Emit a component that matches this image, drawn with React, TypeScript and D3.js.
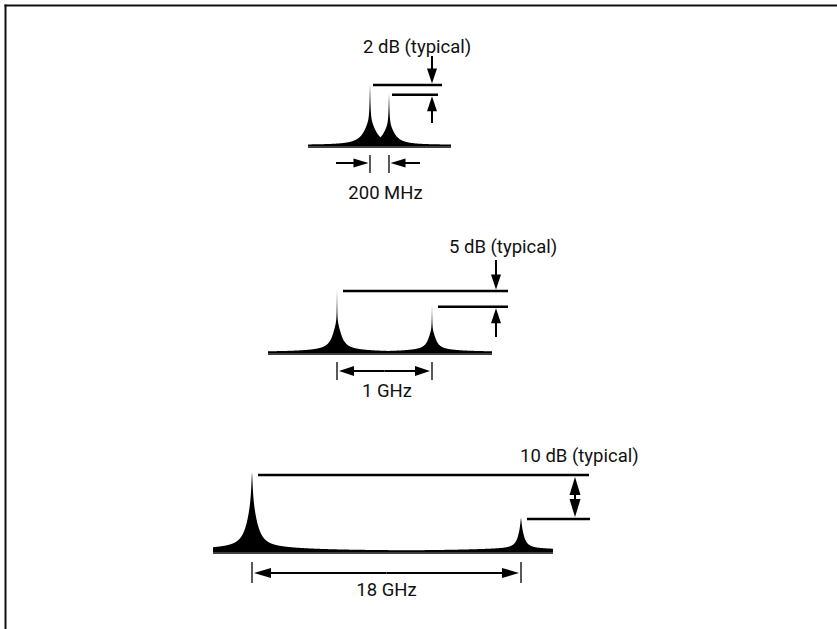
import React from "react";
import * as d3 from "d3";

// ---- data ----
const spanLabels = ["200 MHz", "1 GHz", "18 GHz"];
const spanValuesGHz = [0.2, 1, 18];
const levelLabels = ["2 dB (typical)", "5 dB (typical)", "10 dB (typical)"];
const levelDiffsDb = [2, 5, 10];
const floorLevelsDb = [-12, -19, -17];
// peaks per panel: [frequency offset (GHz), level (dB rel. main peak)]
const peaksPanel1: [number, number][] = [[0, 0], [0.2, -2]];
const peaksPanel2: [number, number][] = [[0, 0], [1, -5]];
const peaksPanel3: [number, number][] = [[0, 0], [18, -10]];
const allPeaks = [peaksPanel1, peaksPanel2, peaksPanel3];

// ---- layout / style ----
const W = 837;
const H = 629;
const FONT = "Roboto, 'Liberation Sans', Arial, sans-serif";
const FS = 18.5;

type Layout = {
  px0: number; px1: number; baseX0: number; baseX1: number; baseY: number; topY: number;
  lineGap: number; line1End: number; line2End: number; arrowX: number;
  labelX: number; labelY: number; downFrom?: number; upTo?: number; doubleArrow: boolean;
  tickTop: number; tickBot: number; spanY: number; spanLabelX: number; spanLabelY: number;
  outerSpan: boolean; outerL?: number; outerR?: number;
  spikeW: number; shoulderFrac: number; shoulderW: number; skirtPx: number; skirtW: number;
};

const layouts: Layout[] = [
  {
    px0: 370, px1: 389, baseX0: 308, baseX1: 451, baseY: 146, topY: 87,
    lineGap: 3, line1End: 442, line2End: 438, arrowX: 432,
    labelX: 363, labelY: 53, downFrom: 56, upTo: 123, doubleArrow: false,
    tickTop: 155, tickBot: 173, spanY: 163, spanLabelX: 385.5, spanLabelY: 199,
    outerSpan: true, outerL: 336, outerR: 420,
    spikeW: 0.5, shoulderFrac: 0.32, shoulderW: 7, skirtPx: 2, skirtW: 15,
  },
  {
    px0: 337, px1: 432, baseX0: 268, baseX1: 492, baseY: 353, topY: 293,
    lineGap: 6, line1End: 508, line2End: 508, arrowX: 496,
    labelX: 449, labelY: 253, downFrom: 260, upTo: 337, doubleArrow: false,
    tickTop: 362, tickBot: 380, spanY: 371, spanLabelX: 387, spanLabelY: 397,
    outerSpan: false,
    spikeW: 0.25, shoulderFrac: 0.41, shoulderW: 5, skirtPx: 2.5, skirtW: 30,
  },
  {
    px0: 252, px1: 521, baseX0: 213, baseX1: 553, baseY: 552, topY: 477,
    lineGap: 6, line1End: 589, line2End: 590, arrowX: 575,
    labelX: 520, labelY: 462, doubleArrow: true,
    tickTop: 562, tickBot: 583, spanY: 573, spanLabelX: 386.5, spanLabelY: 596,
    outerSpan: false,
    spikeW: 1.1, shoulderFrac: 0.47, shoulderW: 6.5, skirtPx: 3.5, skirtW: 60,
  },
];

function headPath(tx: number, ty: number, dx: number, dy: number, len: number, wid: number) {
  // tip at (tx,ty), pointing in direction (dx,dy) (unit)
  const bx = tx - dx * len;
  const by = ty - dy * len;
  const nx = -dy, ny = dx;
  return `M${tx},${ty}L${bx + nx * wid / 2},${by + ny * wid / 2}L${bx - nx * wid / 2},${by - ny * wid / 2}Z`;
}

function Arrow({ x1, y1, x2, y2, len = 15, wid = 10, sw = 2 }: any) {
  const L = Math.hypot(x2 - x1, y2 - y1);
  const dx = (x2 - x1) / L, dy = (y2 - y1) / L;
  const sx = x2 - dx * (len - 2), sy = y2 - dy * (len - 2);
  return (
    <g>
      <line x1={x1} y1={y1} x2={sx} y2={sy} stroke="#000" strokeWidth={sw} />
      <path d={headPath(x2, y2, dx, dy, len, wid)} fill="#000" />
    </g>
  );
}

function Panel({ i }: { i: number }) {
  const L = layouts[i];
  const peaks = allPeaks[i];
  const x = d3.scaleLinear().domain([0, spanValuesGHz[i]]).range([L.px0, L.px1]);
  const y = d3.scaleLinear().domain([floorLevelsDb[i], 0]).range([L.baseY, L.topY]);
  const mainH = L.baseY - y(0);

  const xs = d3.range(L.baseX0, L.baseX1 + 0.001, 0.2);
  const floorPx = 1.2;
  const pts = xs.map((xx) => {
    let h = 0;
    for (const [f, db] of peaks) {
      const Hp = L.baseY - y(db);
      const d = xx - x(f);
      const shW = L.shoulderW * Math.sqrt(Hp / mainH);
      const spike = (Hp * (1 - L.shoulderFrac)) / (1 + Math.pow(Math.abs(d) / L.spikeW, 1.5));
      const shoulder = (Hp * L.shoulderFrac) / (1 + (d / shW) ** 2);
      const skirt = (L.skirtPx * Math.sqrt(Hp / mainH)) / (1 + (d / L.skirtW) ** 2);
      h = Math.max(h, spike + shoulder + skirt);
    }
    return { x: xx, h: h + floorPx };
  });
  const area = d3
    .area<{ x: number; h: number }>()
    .x((d) => d.x)
    .y0(L.baseY)
    .y1((d) => L.baseY - d.h);

  const l1y = y(0) - 2;
  const l2y = y(-levelDiffsDb[i]) - 2;
  const t0 = x(0), t1 = x(spanValuesGHz[i]);

  return (
    <g>
      {/* spectrum */}
      <path d={area(pts) || ""} fill="#000" />
      <line x1={L.baseX0} x2={L.baseX1} y1={L.baseY + 1} y2={L.baseY + 1} stroke="#000" strokeWidth={1.6} />

      {/* level reference lines */}
      <line x1={t0 + L.lineGap} x2={L.line1End} y1={l1y} y2={l1y} stroke="#000" strokeWidth={2.5} />
      <line x1={t1 + L.lineGap} x2={L.line2End} y1={l2y} y2={l2y} stroke="#000" strokeWidth={2.5} />

      {/* level arrows */}
      {L.doubleArrow ? (
        <g>
          <Arrow x1={L.arrowX} y1={(l1y + l2y) / 2} x2={L.arrowX} y2={l1y + 2} len={18} wid={11} />
          <Arrow x1={L.arrowX} y1={(l1y + l2y) / 2} x2={L.arrowX} y2={l2y - 2} len={18} wid={11} />
        </g>
      ) : (
        <g>
          <Arrow x1={L.arrowX} y1={L.downFrom} x2={L.arrowX} y2={l1y - 1.5} />
          <Arrow x1={L.arrowX} y1={L.upTo} x2={L.arrowX} y2={l2y + 1.5} />
        </g>
      )}
      <text x={L.labelX} y={L.labelY} fontFamily={FONT} fontSize={FS} fill="#111">
        {levelLabels[i]}
      </text>

      {/* span markers */}
      <line x1={t0} x2={t0} y1={L.tickTop} y2={L.tickBot} stroke="#000" strokeWidth={1.3} />
      <line x1={t1} x2={t1} y1={L.tickTop} y2={L.tickBot} stroke="#000" strokeWidth={1.3} />
      {L.outerSpan ? (
        <g>
          <Arrow x1={L.outerL} y1={L.spanY} x2={t0 - 1.5} y2={L.spanY} wid={9} />
          <Arrow x1={L.outerR} y1={L.spanY} x2={t1 + 1.5} y2={L.spanY} wid={9} />
        </g>
      ) : (
        <g>
          <Arrow x1={(t0 + t1) / 2} y1={L.spanY} x2={t0 + 2} y2={L.spanY} len={i === 2 ? 17 : 15} wid={10} />
          <Arrow x1={(t0 + t1) / 2} y1={L.spanY} x2={t1 - 2} y2={L.spanY} len={i === 2 ? 17 : 15} wid={10} />
        </g>
      )}
      <text x={L.spanLabelX} y={L.spanLabelY} textAnchor="middle" fontFamily={FONT} fontSize={FS} fill="#111">
        {spanLabels[i]}
      </text>
    </g>
  );
}

export default function App() {
  return (
    <svg
      width={W}
      height={H}
      viewBox={`0 0 ${W} ${H}`}
      style={{ position: "absolute", left: 0, top: 0, background: "#fff" }}
    >
      <rect x={0} y={0} width={W} height={H} fill="#fff" />
      {/* frame */}
      <line x1={4.5} x2={W} y1={5.5} y2={5.5} stroke="#111" strokeWidth={2} />
      <line x1={5.5} x2={5.5} y1={4.5} y2={H} stroke="#111" strokeWidth={2} />
      {[0, 1, 2].map((i) => (
        <Panel key={i} i={i} />
      ))}
    </svg>
  );
}
